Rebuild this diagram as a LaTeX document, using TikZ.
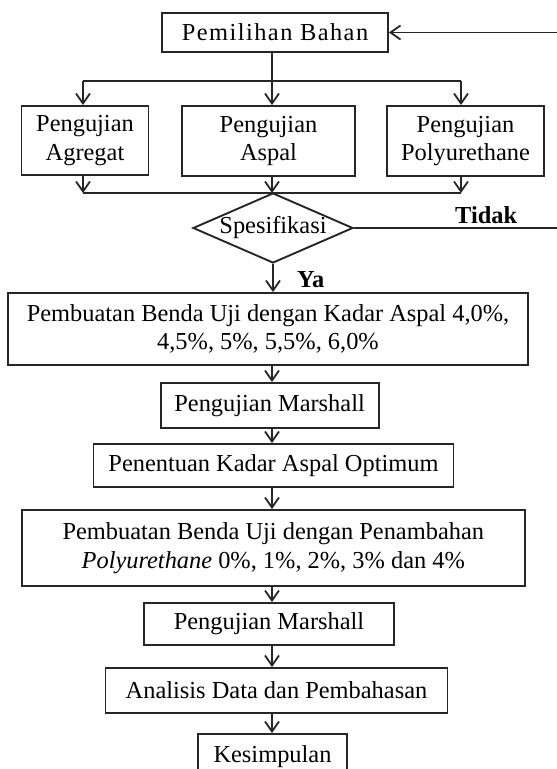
\documentclass[tikz,border=0pt]{standalone}
\usepackage{fontspec}
\setmainfont{Liberation Serif}
\usetikzlibrary{arrows.meta,shapes.geometric}
\definecolor{lc}{HTML}{262626}
\begin{document}
\begin{tikzpicture}[x=1pt,y=-1pt,
  box/.style={draw=lc, line width=1.9pt, rectangle, inner sep=0pt, align=center,
    font=\fontsize{24.4}{28.5}\selectfont, text=black},
  decision/.style={draw=lc, line width=1.9pt, diamond, inner sep=0pt, aspect=2.29,
    font=\fontsize{24.4}{28.5}\selectfont, text=black},
  arr/.style={draw=lc, line width=1.8pt, -{Straight Barb[length=10pt,width=14pt,line width=1.8pt]}},
  ln/.style={draw=lc, line width=1.8pt},
  lbl/.style={font=\fontsize{24.4}{28}\selectfont\bfseries, inner sep=0pt, anchor=base west}]
\clip (0,0) rectangle (557,769);
% nodes
\node[box, minimum width=226pt, minimum height=39pt] (pem) at (275,32.5)
  {\addfontfeature{LetterSpace=6}Pemilihan Bahan};
\node[box, minimum width=127pt, minimum height=69pt] (agr) at (85,140.5) {Pengujian\\Agregat};
\node[box, minimum width=173pt, minimum height=70pt] (asp) at (268.5,141) {Pengujian\\Aspal};
\node[box, minimum width=157pt, minimum height=70pt] (pol) at (465.5,141) {Pengujian\\Polyurethane};
\node[decision, minimum width=160pt, minimum height=70pt] (spec) at (273,228) {Spesifikasi};
\node[box, minimum width=520pt, minimum height=72pt] (b1) at (268,329)
  {Pembuatan Benda Uji dengan Kadar Aspal 4,0\%,\\4,5\%, 5\%, 5,5\%, 6,0\%};
\node[box, minimum width=218pt, minimum height=45pt] (m1) at (269.6,405.5) {Pengujian Marshall};
\node[box, minimum width=360pt, minimum height=43pt] (pko) at (273.5,465.5) {Penentuan Kadar Aspal Optimum};
\node[box, minimum width=503pt, minimum height=76pt] (b4) at (273.3,548)
  {Pembuatan Benda Uji dengan Penambahan\\\textit{Polyurethane} 0\%, 1\%, 2\%, 3\% dan 4\%};
\node[box, minimum width=250pt, minimum height=42pt] (m2) at (269,624) {Pengujian Marshall};
\node[box, minimum width=342pt, minimum height=45pt] (ana) at (276.5,690.5) {Analisis Data dan Pembahasan};
\node[box, minimum width=149pt, minimum height=45pt] (kes) at (272.5,756.5) {Kesimpulan};
\node[lbl] (tidak) at (455,223) {Tidak};
\node[lbl] (ya) at (297,287) {Ya};
% coordinates
\coordinate (ax) at (272,0);
\coordinate (tl) at (83,81);
\coordinate (tm) at (272,81);
\coordinate (tr) at (461,81);
\coordinate (bl) at (83,193);
\coordinate (bm) at (272,193);
\coordinate (br) at (461,193);
\coordinate (fb) at (557,32.5);
\coordinate (td) at (557,228);
% connectors
\draw[arr] (fb) -- (pem.east);
\draw[ln] (spec.east) -- (td);
\draw[arr] (pem.south -| ax) -- (asp.north -| ax);
\draw[ln] (tl) -- (tr);
\draw[arr] (tl) -- (tl |- agr.north);
\draw[arr] (tr) -- (tr |- pol.north);
\draw[arr] (agr.south -| tl) -- (bl);
\draw[arr] (asp.south -| ax) -- (bm);
\draw[arr] (pol.south -| tr) -- (br);
\draw[ln] (bl) -- (br);
\draw[arr] (spec.south) -- (spec.south |- b1.north);
\draw[arr] (b1.south -| ax) -- (m1.north -| ax);
\draw[arr] (m1.south -| ax) -- (pko.north -| ax);
\draw[arr] (pko.south -| ax) -- (b4.north -| ax);
\draw[arr] (b4.south -| ax) -- (m2.north -| ax);
\draw[arr] (m2.south -| ax) -- (ana.north -| ax);
\draw[arr] (ana.south -| ax) -- (kes.north -| ax);
\end{tikzpicture}
\end{document}
